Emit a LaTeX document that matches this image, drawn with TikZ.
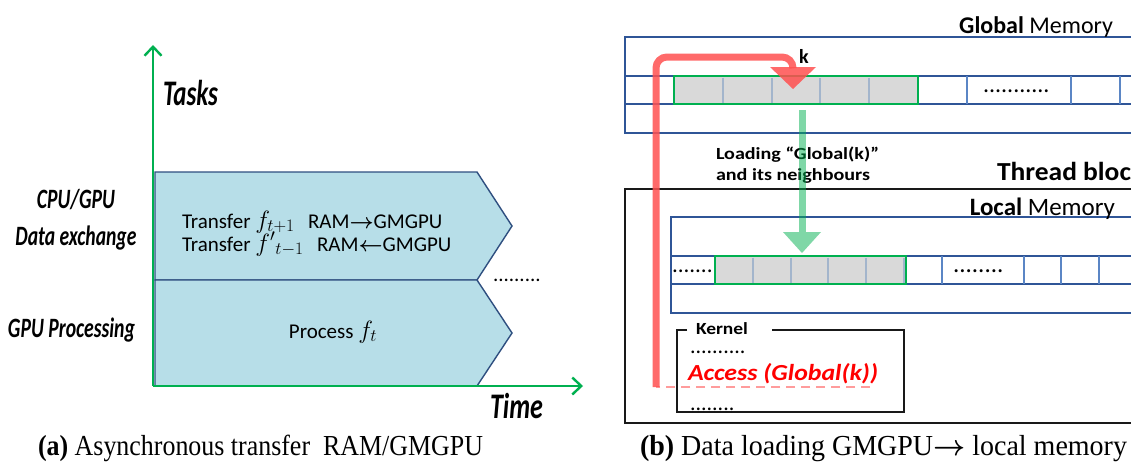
\RequirePackage{fix-cm}
\documentclass[tikz,border=0pt]{standalone}
\usepackage{amsmath}
\usepackage{fontspec}
\setmainfont{Carlito}
\newfontfamily\capfont{Liberation Serif}
\usetikzlibrary{arrows.meta,calc}

\definecolor{axisgreen}{HTML}{00B050}
\definecolor{taskfill}{HTML}{B7DEE8}
\definecolor{taskedge}{HTML}{2F4F80}
\definecolor{memblue}{HTML}{2F5597}
\definecolor{cellblue}{HTML}{5B86C5}
\definecolor{cellgray}{HTML}{D9D9D9}
\definecolor{graydiv}{HTML}{A3B5CC}
\definecolor{hotred}{HTML}{FF5050}
\definecolor{pinkdash}{HTML}{FF9C9C}

\newcommand{\fs}[1]{\fontsize{#1}{#1}\selectfont}
% set a text to a given width, keeping its natural height
\newcommand{\towidth}[2]{\resizebox{#1}{\height}{#2}}
% larger math symbol inside the task boxes
\newcommand{\taskmath}[1]{{\fs{25}$#1$}}

\tikzset{
  txt/.style={inner sep=0pt, outer sep=0pt, anchor=base west},
  axis/.style={draw=axisgreen, line width=2.6pt,
    -{Straight Barb[length=9pt,width=17pt,line width=2.4pt]}},
  taskbox/.style={draw=taskedge, line width=1.4pt, fill=taskfill, line join=miter},
  memframe/.style={draw=memblue, line width=1.8pt},
  memline/.style={draw=memblue, line width=1.6pt},
  celldiv/.style={draw=cellblue, line width=1.6pt},
  graydivider/.style={draw=graydiv, line width=1.4pt},
  selbox/.style={draw=axisgreen, line width=2.2pt, fill=cellgray},
  blackframe/.style={draw=black!90, line width=2.4pt},
  redline/.style={draw=hotred, opacity=0.85, line width=7pt, line cap=butt,
    rounded corners=11pt},
  redhead/.style={fill=hotred, opacity=0.85},
  greenline/.style={draw=axisgreen, opacity=0.5, line width=7pt},
  greenhead/.style={fill=axisgreen, opacity=0.5},
  sidelabel/.style={inner sep=0pt, anchor=base, font=\fs{28}\bfseries\itshape},
  caption/.style={txt, font=\capfont\fs{29}},
  dotrow/.style={txt, font=\fs{#1}},
}

\begin{document}
\begin{tikzpicture}[x=1pt,y=-1pt]
\useasboundingbox (0,0) rectangle (1131,463);
\clip (0,0) rectangle (1131,463);
\fill[white] (0,0) rectangle (1131,463);

% ---------------- (a) task timeline ----------------
\coordinate (origin) at (153,386);
\coordinate (ytip) at (153,45);
\coordinate (xtip) at (583,386);

\path[taskbox] (155,172) -- (477,172) -- (512,226) -- (477,280) -- (155,280) -- cycle;
\path[taskbox] (155,280) -- (477,280) -- (512,333) -- (477,386) -- (155,386) -- cycle;

\draw[axis] (origin) -- (ytip);
\draw[axis] (origin) -- (xtip);

\node[txt, font=\fs{36}\bfseries\itshape] (tasks) at (163,105) {\towidth{55pt}{Tasks}};
\node[txt, font=\fs{36}\bfseries\itshape] (time) at (490,418) {\towidth{53pt}{Time}};

\node[sidelabel] (cpugpu) at (76,208) {\towidth{78pt}{CPU/GPU}};
\node[sidelabel] (dataex) at (76,245) {\towidth{121pt}{Data exchange}};
\node[sidelabel] (gpuproc) at (71.5,337) {\towidth{127pt}{GPU Processing}};

\node[txt, align=left, font={\fontsize{21}{23}\selectfont\lineskiplimit=-30pt}] (xfer) at (182,251)
  {\makebox[126pt][l]{Transfer \taskmath{f_{t+1}}}RAM$\boldsymbol{\rightarrow}$GMGPU\\
   \makebox[135pt][l]{Transfer \taskmath{f'{}_{t-1}}}RAM$\boldsymbol{\leftarrow}$GMGPU};
\node[inner sep=0pt, anchor=base, font=\fs{21}] (proc) at (333,338) {Process \taskmath{f_t}};

\node[dotrow=21] (moredots) at (493,281) {.........};

\node[caption] (capa) at (38,455) {\towidth{445pt}{\textbf{(a)} Asynchronous transfer\ \ RAM/GMGPU}};

% ---------------- (b) global -> local memory ----------------
% global memory strip
\draw[memframe] (625,37) rectangle (1145,133);
\draw[memline] (625,76) -- (1145,76);
\draw[memline] (625,104) -- (1145,104);
\foreach \x in {967,1071,1120} \draw[celldiv] (\x,76) -- (\x,104);
\path[selbox] (674,76) rectangle (918,104);
\foreach \x in {723,772,820,869} \draw[graydivider] (\x,77.5) -- (\x,102.5);
\draw[axisgreen, line width=2.2pt] (674,76) rectangle (918,104);
\node[dotrow=24] (gdots) at (983,92) {...........};

\node[txt, anchor=base east, font=\fs{24}] (gmem) at (1113,33) {\textbf{Global} Memory};

% thread block
\draw[blackframe] (625,189) rectangle (1145,423);
\node[txt, font=\fs{26}\bfseries] (tblock) at (997,180) {\towidth{134pt}{Thread bloc}};

% local memory strip
\draw[memframe] (671,217) rectangle (1145,313);
\draw[memline] (671,256) -- (1145,256);
\draw[memline] (671,284) -- (1145,284);
\foreach \x in {942,1024,1061,1099} \draw[celldiv] (\x,256) -- (\x,284);
\path[selbox] (715,256) rectangle (906,284);
\foreach \x in {753,791,828,866,904} \draw[graydivider] (\x,257.5) -- (\x,282.5);
\draw[axisgreen, line width=2.2pt] (715,256) rectangle (906,284);
\node[dotrow=23] (ldotsa) at (672,272) {.......};
\node[dotrow=25] (ldotsb) at (953,272) {........};

\node[txt, anchor=base east, font=\fs{25}] (lmem) at (1115,215) {\textbf{Local} Memory};

% kernel box with its label set into the top edge
\coordinate (kgapL) at (687,330);
\coordinate (kgapR) at (772,330);
\draw[blackframe] (kgapL) -- (677,330) -- (677,412) -- (904,412) -- (904,330) -- (kgapR);
\node[txt, font=\fs{17}\bfseries] (kernel) at (696,334) {\towidth{52pt}{Kernel}};
\node[dotrow=22] (kdotsa) at (690,353) {..........};
\node[txt, font=\fs{23}\bfseries\itshape, text=red] (access) at (688,380) {\towidth{190pt}{Access (Global(k))}};
\node[dotrow=22] (kdotsb) at (690,410) {........};

% loading label and cell index
\node[txt, font=\fs{17}\bfseries] (load1) at (716,159) {\towidth{163pt}{Loading “Global(k)”}};
\node[txt, font=\fs{17}\bfseries] (load2) at (716,180) {\towidth{154pt}{and its neighbours}};
\node[txt, font=\fs{20}\bfseries] (kidx) at (799,63) {k};

% green load arrow: global(k) -> local copy
\coordinate (gsrc) at (802,110);
\coordinate (gbase) at (802,232);
\coordinate (gtip) at (802,253);
\draw[greenline] (gsrc) -- (gbase);
\path[greenhead] ($(gbase)+(-19,0)$) -- ($(gbase)+(19,0)$) -- (gtip) -- cycle;

% red access path: kernel access -> global cell k
\coordinate (rdash) at (870,387);
\coordinate (rstart) at (656,387);
\coordinate (rbase) at (793,67);
\coordinate (rtip) at (793,89);
\draw[pinkdash, line width=2pt, dash pattern=on 9pt off 6pt] (rdash) -- (rstart);
\draw[redline] (rstart) -- (656,57) -- (793,57) -- (rbase);
\path[redhead] ($(rbase)+(-23,0)$) -- ($(rbase)+(23,0)$) -- (rtip) -- cycle;

\node[caption] (capb) at (640,455) {\towidth{487pt}{\textbf{(b)} Data loading GMGPU$\boldsymbol{\rightarrow}$ local memory}};
\end{tikzpicture}
\end{document}
